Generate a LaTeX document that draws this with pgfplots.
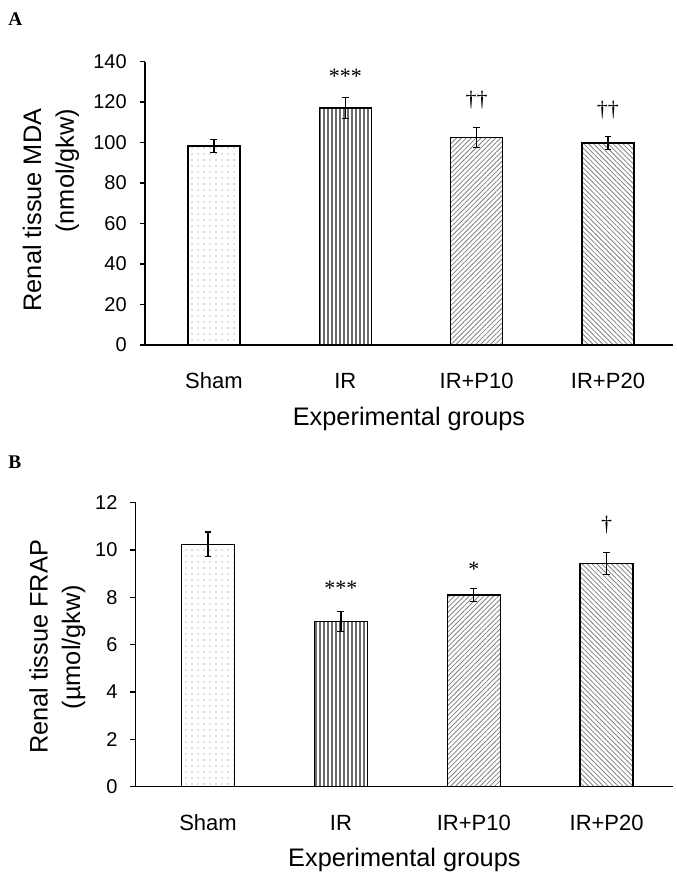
\documentclass[border=0pt]{standalone}
\usepackage{pgfplots}
\pgfplotsset{compat=1.18}
\usetikzlibrary{patterns.meta}
\usepackage{fontspec}
\setmainfont{Liberation Sans}
\newfontfamily\serifann{Liberation Serif}
\tikzset{ann/.style={font=\serifann\fontsize{16.5}{16.5}\selectfont, inner sep=0pt}}
\begin{document}
\begin{tikzpicture}
\useasboundingbox (0,0) rectangle (507.75pt,-655.5pt);
\pgfplotsset{
  mybase/.style={
    scale only axis,
    axis x line*=bottom, axis y line*=left,
    axis line style={-, line width=1.1pt, black},
    ybar, bar shift=0pt,
    xtick={0,1,2,3},
    xticklabels={Sham,IR,IR+P10,IR+P20},
    xtick pos=lower, ytick pos=left,
    ytick align=outside,
    xtick align=inside,
    xtick style={draw=none},
    ytick style={draw=black, line width=1.1pt, solid},
    major tick length=4pt,
    /pgf/number format/assume math mode=true,
    xticklabel style={font=\fontsize{16.5}{18}\selectfont, anchor=base, yshift=-32.5pt},
    yticklabel style={font=\fontsize{15}{17}\selectfont, inner sep=0pt, xshift=-9.5pt},
    xlabel={Experimental groups},
    xlabel style={font=\fontsize{19}{22}\selectfont, at={(axis description cs:0.5,0)}, anchor=base, yshift=-60pt},
    ylabel style={font=\fontsize{19}{24.5}\selectfont, anchor=center},
    clip=false,
  },
  bs/.style={draw=black, line width=1.1pt,
    error bars/.cd, y dir=both, y explicit,
    error bar style={line width=1pt, black},
    error mark options={rotate=90, line width=1pt, black, mark size=2.6pt}},
  pdots/.style={pattern={Dots[distance=4.5pt,radius=0.55pt]}, pattern color=gray!90!black},
  pvert/.style={pattern={Lines[angle=90,distance=3pt,line width=1pt]}, pattern color=gray!85!black},
  pne/.style={pattern={Lines[angle=45,distance=2.6pt,line width=0.6pt]}, pattern color=gray},
  pnw/.style={pattern={Lines[angle=-45,distance=2.6pt,line width=0.6pt]}, pattern color=gray},
}
\node[anchor=base west, inner sep=0pt, font=\serifann\bfseries\fontsize{14.5}{16}\selectfont] at (6pt,-19.5pt) {A};
\node[anchor=base west, inner sep=0pt, font=\serifann\bfseries\fontsize{14.5}{16}\selectfont] at (6pt,-351pt) {B};

\begin{axis}[mybase, at={(108.75pt,-258.75pt)}, anchor=south west,
  width=396pt, height=212.6pt, xmin=-0.525, xmax=3.495, ymin=0, ymax=140,
  ytick={0,20,40,60,80,100,120,140}, bar width=39pt,
  ylabel={Renal tissue MDA\\(nmol/gkw)},
  ylabel style={align=right, at={(axis description cs:-0.178,0.476)}}]
\addplot[pdots, bs] coordinates {(0,98.3) +- (0,3.1)};
\addplot[pvert, bs] coordinates {(1,117.1) +- (0,5.2)};
\addplot[pne, bs] coordinates {(2,102.5) +- (0,4.9)};
\addplot[pnw, bs] coordinates {(3,99.7) +- (0,3.3)};
\node[ann] at (axis cs:1,132.5) {***};
\node[ann] at (axis cs:2,121) {††};
\node[ann] at (axis cs:3,116) {††};
\end{axis}

\begin{axis}[mybase, at={(101.8pt,-590pt)}, anchor=south west,
  width=403pt, height=213pt, xmin=-0.544, xmax=3.5, ymin=0, ymax=12,
  ytick={0,2,4,6,8,10,12}, bar width=39.75pt,
  ylabel={Renal tissue FRAP\\(µmol/gkw)},
  ylabel style={align=center, at={(axis description cs:-0.146,0.492)}}]
\addplot[pdots, bs] coordinates {(0,10.24) +- (0,0.52)};
\addplot[pvert, bs] coordinates {(1,6.99) +- (0,0.42)};
\addplot[pne, bs] coordinates {(2,8.10) +- (0,0.28)};
\addplot[pnw, bs] coordinates {(3,9.43) +- (0,0.47)};
\node[ann] at (axis cs:1,8.4) {***};
\node[ann] at (axis cs:2,9.2) {*};
\node[ann] at (axis cs:3,11.05) {†};
\end{axis}
\end{tikzpicture}
\end{document}
